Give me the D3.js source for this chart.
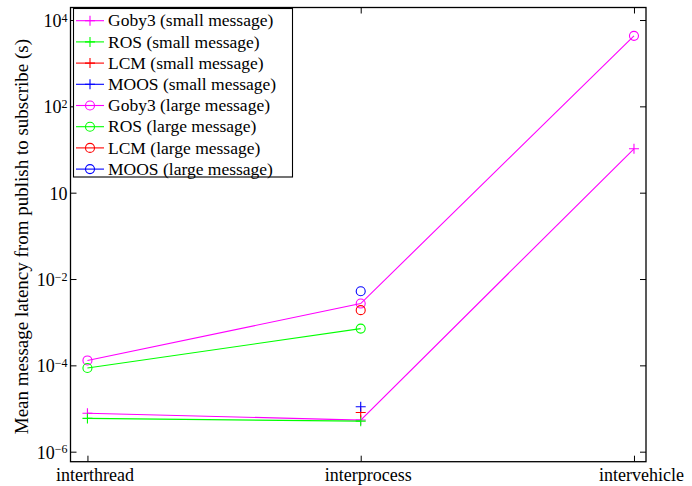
<!DOCTYPE html>
<html><head><meta charset="utf-8">
<script src="https://cdn.jsdelivr.net/npm/d3@7"></script>
<style>body{margin:0;background:#fff}svg{display:block}text{font-family:"Liberation Serif","Times New Roman",serif;fill:#000}</style>
</head><body>
<svg id="c" width="692" height="486"></svg>
<script>
const categories = ["interthread", "interprocess", "intervehicle"];
const seriesNames = ["Goby3 (small message)", "ROS (small message)", "LCM (small message)", "MOOS (small message)",
                     "Goby3 (large message)", "ROS (large message)", "LCM (large message)", "MOOS (large message)"];
const seriesColors = ["#ff00ff", "#00ff00", "#ff0000", "#0000ff", "#ff00ff", "#00ff00", "#ff0000", "#0000ff"];
const seriesMarkers = ["plus", "plus", "plus", "plus", "circle", "circle", "circle", "circle"];
const gobySmall = [7.8e-6, 5.4e-6, 10.4];
const rosSmall  = [5.9e-6, 5.1e-6, null];
const lcmSmall  = [null, 8.1e-6, null];
const moosSmall = [null, 1.1e-5, null];
const gobyLarge = [1.3e-4, 2.7e-3, 4300];
const rosLarge  = [8.7e-5, 7.1e-4, null];
const lcmLarge  = [null, 1.9e-3, null];
const moosLarge = [null, 5.2e-3, null];
const seriesValues = [gobySmall, rosSmall, lcmSmall, moosSmall, gobyLarge, rosLarge, lcmLarge, moosLarge];
const yTickValues = [1e4, 1e2, 1, 1e-2, 1e-4, 1e-6];
const yTickBase = ["10", "10", "10", "10", "10", "10"];
const yTickExp = ["4", "2", "", "-2", "-4", "-6"];
const yLabel = "Mean message latency from publish to subscribe (s)";

const svg = d3.select("#c");
const L = 70.5, R = 646, T = 7.5, B = 461.7;
const x = d3.scaleLinear().domain([0.938, 3.044]).range([L, R]);
const y = d3.scaleLog().domain([Math.pow(10, -6.232), Math.pow(10, 4.29)]).range([B, T]);

// axes (ticks inward)
const tickLen = 6;
const gB = svg.append("g").attr("transform", `translate(0,${B})`)
  .call(d3.axisBottom(x).tickValues([1, 2, 3]).tickSize(-tickLen).tickPadding(19.3)
    .tickFormat((d) => categories[d - 1]));
const gT = svg.append("g").attr("transform", `translate(0,${T})`)
  .call(d3.axisTop(x).tickValues([1, 2, 3]).tickSize(-tickLen).tickFormat(""));
const gL = svg.append("g").attr("transform", `translate(${L},0)`)
  .call(d3.axisLeft(y).tickValues(yTickValues).tickSize(-tickLen).tickPadding(4).tickFormat(""));
const gR = svg.append("g").attr("transform", `translate(${R},0)`)
  .call(d3.axisRight(y).tickValues(yTickValues).tickSize(-tickLen).tickFormat(""));
[gB, gT, gL, gR].forEach(g => {
  g.select(".domain").remove();
  g.selectAll(".tick line").attr("stroke", "#000").attr("stroke-width", 1);
});
gB.selectAll(".tick text").attr("font-size", 18).attr("dy", "0").attr("dx", 7)
  .attr("font-family", "Liberation Serif");

// y tick labels with superscripts
gL.selectAll(".tick").each(function(d, i) {
  const t = d3.select(this).append("text").attr("x", -3).attr("y", 0).attr("dy", "0.36em")
    .attr("text-anchor", "end").attr("font-size", 18);
  t.append("tspan").text(yTickBase[i]);
  if (yTickExp[i]) t.append("tspan").attr("dy", "-0.45em").attr("font-size", 12).text(yTickExp[i].replace("-", "\u2212"));
});

// frame
svg.append("rect").attr("x", L).attr("y", T).attr("width", R - L).attr("height", B - T)
  .attr("fill", "none").attr("stroke", "#000").attr("stroke-width", 1.3);

// y label
svg.append("text").attr("transform", `translate(28,${(T + B) / 2 + 2}) rotate(-90)`)
  .attr("text-anchor", "middle").attr("font-size", 19).text(yLabel);

// markers
function drawMarker(g, type, cx, cy, color) {
  if (type === "plus") {
    g.append("path").attr("d", `M${cx - 5},${cy}H${cx + 5}M${cx},${cy - 5}V${cy + 5}`)
      .attr("stroke", color).attr("stroke-width", 1.1).attr("fill", "none");
  } else {
    g.append("circle").attr("cx", cx).attr("cy", cy).attr("r", 4.5)
      .attr("stroke", color).attr("stroke-width", 1.1).attr("fill", "none");
  }
}

const plot = svg.append("g");
const line = d3.line().defined(d => d.v != null).x(d => x(d.i + 1)).y(d => y(d.v));
seriesValues.forEach((vals, s) => {
  const pts = vals.map((v, i) => ({ v, i }));
  plot.append("path").attr("d", line(pts)).attr("fill", "none")
    .attr("stroke", seriesColors[s]).attr("stroke-width", 1.1);
  pts.filter(p => p.v != null).forEach(p => drawMarker(plot, seriesMarkers[s], x(p.i + 1), y(p.v), seriesColors[s]));
});

// legend
const lg = svg.append("g");
const lx0 = 73.5, ly0 = 8.5, lw = 219, lh = 168.5, rowH = 21.2, row0 = 20.7;
lg.append("rect").attr("x", lx0).attr("y", ly0).attr("width", lw).attr("height", lh)
  .attr("fill", "#fff").attr("stroke", "#000").attr("stroke-width", 1.1);
seriesNames.forEach((name, s) => {
  const cy = row0 + s * rowH;
  lg.append("line").attr("x1", 76).attr("x2", 104).attr("y1", cy).attr("y2", cy)
    .attr("stroke", seriesColors[s]).attr("stroke-width", 1.1);
  drawMarker(lg, seriesMarkers[s], 90, cy, seriesColors[s]);
  lg.append("text").attr("x", 108).attr("y", cy).attr("dy", "0.33em").attr("font-size", 17.5).text(name);
});
</script>
</body></html>
